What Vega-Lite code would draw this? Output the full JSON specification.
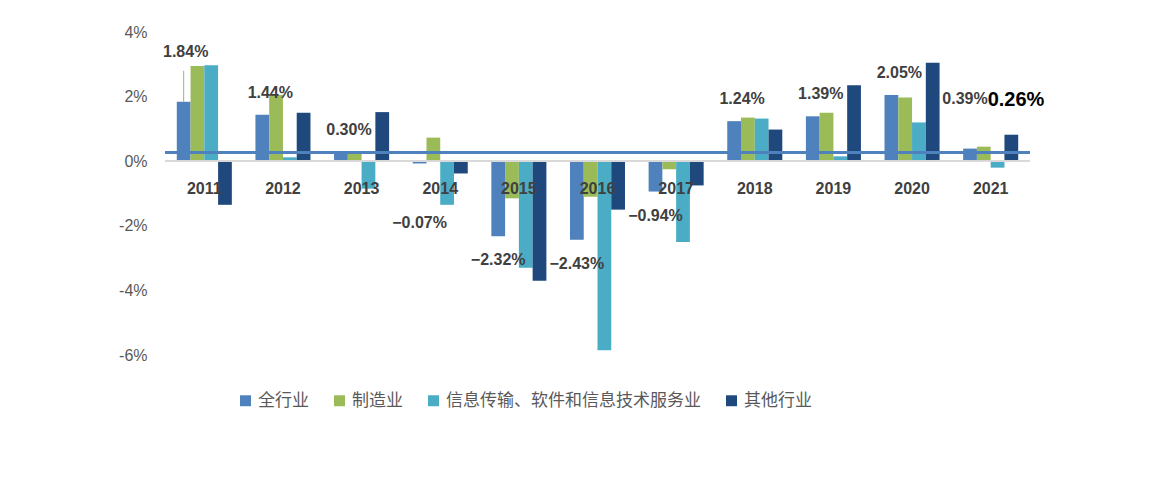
{
  "$schema": "https://vega.github.io/schema/vega-lite/v6.json",
  "width": 865,
  "height": 323,
  "padding": {"left": 118, "top": 24, "right": 120, "bottom": 0},
  "background": "white",
  "title": {"text": "图 5.4  重点行业 TFP 增长率", "orient": "bottom", "font": "Noto Sans CJK SC", "fontSize": 19, "fontWeight": "normal", "color": "#000", "offset": 105},
  "data": {"values": [
    {"year": "2011", "s": "全行业", "v": 1.84}, {"year": "2011", "s": "制造业", "v": 2.95}, {"year": "2011", "s": "信息传输、软件和信息技术服务业", "v": 2.97}, {"year": "2011", "s": "其他行业", "v": -1.35},
    {"year": "2012", "s": "全行业", "v": 1.44}, {"year": "2012", "s": "制造业", "v": 2.05}, {"year": "2012", "s": "信息传输、软件和信息技术服务业", "v": 0.12}, {"year": "2012", "s": "其他行业", "v": 1.5},
    {"year": "2013", "s": "全行业", "v": 0.30}, {"year": "2013", "s": "制造业", "v": 0.25}, {"year": "2013", "s": "信息传输、软件和信息技术服务业", "v": -0.85}, {"year": "2013", "s": "其他行业", "v": 1.52},
    {"year": "2014", "s": "全行业", "v": -0.07}, {"year": "2014", "s": "制造业", "v": 0.73}, {"year": "2014", "s": "信息传输、软件和信息技术服务业", "v": -1.35}, {"year": "2014", "s": "其他行业", "v": -0.38},
    {"year": "2015", "s": "全行业", "v": -2.32}, {"year": "2015", "s": "制造业", "v": -1.15}, {"year": "2015", "s": "信息传输、软件和信息技术服务业", "v": -3.3}, {"year": "2015", "s": "其他行业", "v": -3.7},
    {"year": "2016", "s": "全行业", "v": -2.43}, {"year": "2016", "s": "制造业", "v": -1.1}, {"year": "2016", "s": "信息传输、软件和信息技术服务业", "v": -5.85}, {"year": "2016", "s": "其他行业", "v": -1.5},
    {"year": "2017", "s": "全行业", "v": -0.94}, {"year": "2017", "s": "制造业", "v": -0.25}, {"year": "2017", "s": "信息传输、软件和信息技术服务业", "v": -2.5}, {"year": "2017", "s": "其他行业", "v": -0.75},
    {"year": "2018", "s": "全行业", "v": 1.24}, {"year": "2018", "s": "制造业", "v": 1.35}, {"year": "2018", "s": "信息传输、软件和信息技术服务业", "v": 1.32}, {"year": "2018", "s": "其他行业", "v": 0.98},
    {"year": "2019", "s": "全行业", "v": 1.39}, {"year": "2019", "s": "制造业", "v": 1.5}, {"year": "2019", "s": "信息传输、软件和信息技术服务业", "v": 0.15}, {"year": "2019", "s": "其他行业", "v": 2.35},
    {"year": "2020", "s": "全行业", "v": 2.05}, {"year": "2020", "s": "制造业", "v": 1.97}, {"year": "2020", "s": "信息传输、软件和信息技术服务业", "v": 1.2}, {"year": "2020", "s": "其他行业", "v": 3.05},
    {"year": "2021", "s": "全行业", "v": 0.39}, {"year": "2021", "s": "制造业", "v": 0.45}, {"year": "2021", "s": "信息传输、软件和信息技术服务业", "v": -0.2}, {"year": "2021", "s": "其他行业", "v": 0.82}
  ]},
  "transform": [{"calculate": "format(datum.v, '.2f') + '%'", "as": "lbl"}],
  "encoding": {
    "x": {"field": "year", "type": "nominal", "scale": {"paddingInner": 0.3, "paddingOuter": 0.15}, "axis": null},
    "xOffset": {"field": "s", "type": "nominal", "sort": ["全行业", "制造业", "信息传输、软件和信息技术服务业", "其他行业"]}
  },
  "layer": [
    {
      "mark": {"type": "bar"},
      "encoding": {
        "y": {"field": "v", "type": "quantitative", "scale": {"domain": [-6, 4]},
          "axis": {"values": [-6, -5, -4, -3, -2, -1, 0, 1, 2, 3, 4], "labelExpr": "datum.value + '%'", "labelOverlap": false, "grid": false, "domain": false, "ticks": false, "labelFontSize": 16, "labelColor": "#595959", "labelFont": "Liberation Sans", "labelPadding": 18, "title": null}},
        "color": {"field": "s", "type": "nominal", "sort": ["全行业", "制造业", "信息传输、软件和信息技术服务业", "其他行业"],
          "scale": {"domain": ["全行业", "制造业", "信息传输、软件和信息技术服务业", "其他行业"], "range": ["#4F81BD", "#9BBB59", "#4BACC6", "#1F497D"]},
          "legend": {"orient": "none", "legendX": 72, "legendY": 360, "direction": "horizontal", "title": null, "symbolType": "square", "symbolSize": 120, "labelFontSize": 17, "labelFont": "Noto Sans CJK SC", "labelColor": "#595959", "labelLimit": 500, "columnPadding": 22}}
      }
    },
    {
      "mark": {"type": "rule", "color": "#D9D9D9", "strokeWidth": 1},
      "encoding": {"y": {"datum": 0}, "x": null, "xOffset": null}
    },
    {
      "mark": {"type": "rule", "color": "#4F81BD", "strokeWidth": 2.5},
      "encoding": {"y": {"datum": 0.26}, "x": null, "xOffset": null}
    },
    {
      "transform": [{"filter": "datum.s == '全行业'"}],
      "mark": {"type": "text", "fontSize": 16, "fontWeight": "bold", "color": "#404040", "font": "Liberation Sans"},
      "encoding": {"y": {"datum": -0.85}, "text": {"field": "year"}, "xOffset": null}
    },
    {
      "transform": [{"filter": "datum.s == '全行业' && datum.v >= 0 && datum.year != '2021' && datum.year != '2011'"}],
      "mark": {"type": "text", "fontSize": 16, "fontWeight": "bold", "color": "#404040", "font": "Liberation Sans", "dy": -22, "dx": 8},
      "encoding": {"y": {"field": "v", "type": "quantitative"}, "text": {"field": "lbl"}}
    },
    {
      "transform": [{"filter": "datum.s == '全行业' && datum.year == '2011'"}],
      "mark": {"type": "text", "fontSize": 16, "fontWeight": "bold", "color": "#404040", "font": "Liberation Sans", "dy": -50, "dx": 2},
      "encoding": {"y": {"field": "v", "type": "quantitative"}, "text": {"field": "lbl"}}
    },
    {
      "transform": [{"filter": "datum.s == '全行业' && datum.year == '2011'"}],
      "mark": {"type": "rule", "color": "#A6A6A6", "strokeWidth": 1},
      "encoding": {"y": {"datum": 1.84}, "y2": {"datum": 2.8}}
    },
    {
      "transform": [{"filter": "datum.s == '全行业' && datum.v < 0 && datum.year != '2014'"}],
      "mark": {"type": "text", "fontSize": 16, "fontWeight": "bold", "color": "#404040", "font": "Liberation Sans", "dy": 24, "dx": 0},
      "encoding": {"y": {"field": "v", "type": "quantitative"}, "text": {"field": "lbl"}}
    },
    {
      "transform": [{"filter": "datum.s == '全行业' && datum.year == '2014'"}],
      "mark": {"type": "text", "fontSize": 16, "fontWeight": "bold", "color": "#404040", "font": "Liberation Sans", "dy": 60, "dx": 0},
      "encoding": {"y": {"field": "v", "type": "quantitative"}, "text": {"field": "lbl"}}
    },
    {
      "transform": [{"filter": "datum.s == '全行业' && datum.year == '2021'"}],
      "mark": {"type": "text", "fontSize": 16, "fontWeight": "bold", "color": "#404040", "font": "Liberation Sans", "dy": -50, "dx": -5},
      "encoding": {"y": {"field": "v", "type": "quantitative"}, "text": {"field": "lbl"}}
    },
    {
      "transform": [{"filter": "datum.s == '全行业' && datum.year == '2021'"}],
      "mark": {"type": "text", "fontSize": 20, "fontWeight": "bold", "color": "#000", "font": "Liberation Sans", "dx": 46},
      "encoding": {"y": {"datum": 1.9}, "text": {"value": "0.26%"}}
    }
  ],
  "config": {"view": {"stroke": null}, "text": {"baseline": "middle"}}
}
